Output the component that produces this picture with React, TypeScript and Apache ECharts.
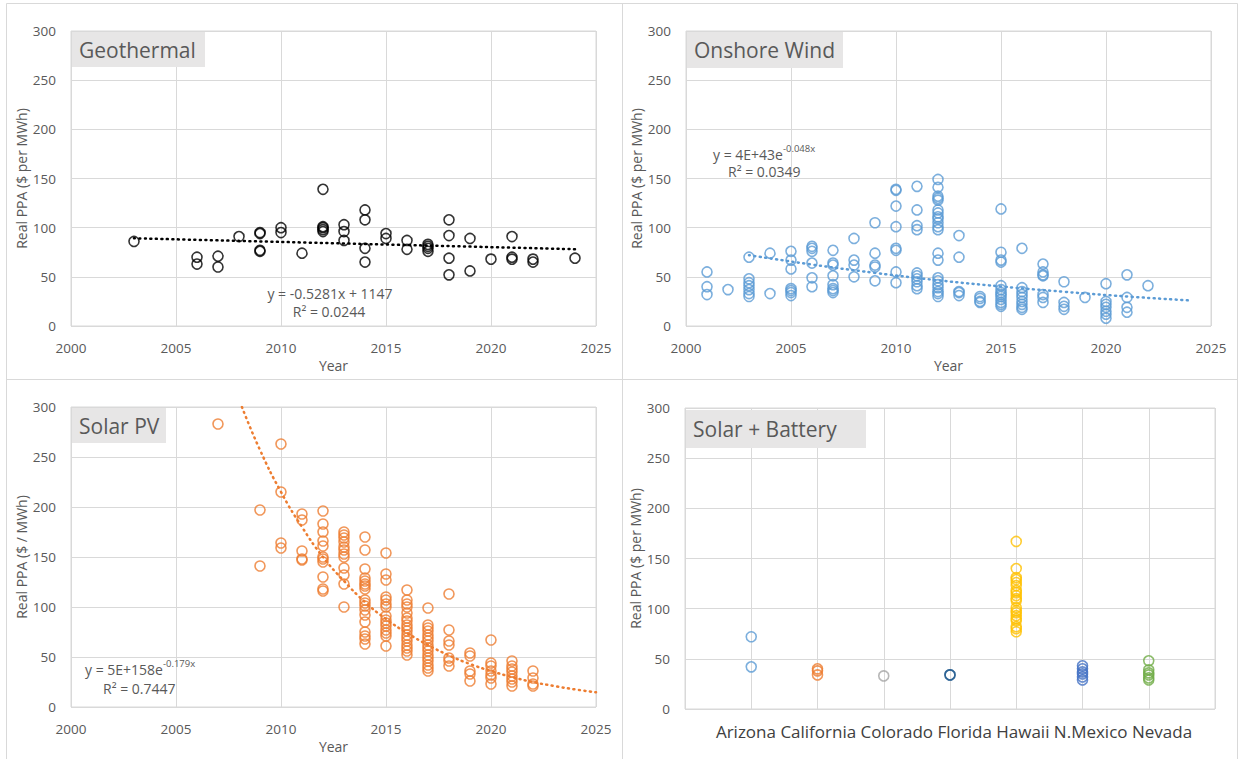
import React, { useEffect, useRef } from 'react';
import * as echarts from 'echarts';

// ---------- data ----------
const geoPoints: [number, number][] = [
  [2003, 86], [2006, 70], [2006, 63], [2007, 71], [2007, 60], [2008, 91],
  [2009, 95], [2009, 94], [2009, 77], [2009, 76], [2010, 100], [2010, 95], [2011, 74],
  [2012, 139], [2012, 101], [2012, 100], [2012, 98], [2012, 96],
  [2013, 103], [2013, 96], [2013, 87], [2014, 118], [2014, 108], [2014, 79], [2014, 65],
  [2015, 94], [2015, 89], [2016, 87], [2016, 78], [2017, 83], [2017, 81], [2017, 79], [2017, 76],
  [2018, 108], [2018, 92], [2018, 69], [2018, 52], [2019, 89], [2019, 56], [2020, 68],
  [2021, 91], [2021, 70], [2021, 68], [2022, 68], [2022, 65], [2024, 69],
];
const geoTrend: [number, number][] = [[2003, 89.2], [2024, 78.1]];

const windPoints: [number, number][] = [
  [2001, 55], [2001, 40], [2001, 32], [2002, 37],
  [2003, 70], [2003, 48], [2003, 44], [2003, 41], [2003, 37], [2003, 33], [2003, 30],
  [2004, 74], [2004, 33],
  [2005, 76], [2005, 67], [2005, 58], [2005, 38], [2005, 36], [2005, 34], [2005, 31],
  [2006, 81], [2006, 79], [2006, 76], [2006, 64], [2006, 49], [2006, 40],
  [2007, 77], [2007, 64], [2007, 62], [2007, 51], [2007, 42], [2007, 38], [2007, 36], [2007, 34],
  [2008, 89], [2008, 67], [2008, 62], [2008, 50],
  [2009, 105], [2009, 74], [2009, 62], [2009, 60], [2009, 46],
  [2010, 139], [2010, 138], [2010, 122], [2010, 101], [2010, 79], [2010, 77], [2010, 55], [2010, 44],
  [2011, 142], [2011, 118], [2011, 102], [2011, 98], [2011, 54], [2011, 51], [2011, 48], [2011, 45], [2011, 41], [2011, 38],
  [2012, 149], [2012, 141], [2012, 132], [2012, 130], [2012, 128], [2012, 118], [2012, 115], [2012, 111],
  [2012, 109], [2012, 105], [2012, 101], [2012, 98], [2012, 74], [2012, 67], [2012, 49], [2012, 46],
  [2012, 42], [2012, 39], [2012, 35], [2012, 33], [2012, 30],
  [2013, 92], [2013, 70], [2013, 35], [2013, 34], [2013, 31],
  [2014, 30], [2014, 28], [2014, 25], [2014, 24],
  [2015, 119], [2015, 75], [2015, 67], [2015, 65], [2015, 41], [2015, 37], [2015, 34], [2015, 32],
  [2015, 30], [2015, 27], [2015, 24], [2015, 22], [2015, 20],
  [2016, 79], [2016, 39], [2016, 35], [2016, 32], [2016, 29], [2016, 25], [2016, 22], [2016, 19], [2016, 17],
  [2017, 63], [2017, 55], [2017, 52], [2017, 51], [2017, 32], [2017, 29], [2017, 24],
  [2018, 45], [2018, 24], [2018, 20], [2018, 17], [2019, 29],
  [2020, 43], [2020, 25], [2020, 22], [2020, 19], [2020, 15], [2020, 12], [2020, 8],
  [2021, 52], [2021, 29], [2021, 19], [2021, 14], [2022, 41],
];
const windTrend: [number, number][] = [
  [2003, 72], [2006, 62.5], [2009, 54], [2012, 46.5], [2015, 40.2], [2018, 34.8], [2021, 30], [2024, 26],
];

const solarPoints: [number, number][] = [
  [2007, 283], [2009, 197], [2009, 141],
  [2010, 263], [2010, 215], [2010, 164], [2010, 159],
  [2011, 193], [2011, 187], [2011, 156], [2011, 148], [2011, 147],
  [2012, 196], [2012, 183], [2012, 175], [2012, 166], [2012, 161], [2012, 150], [2012, 148], [2012, 145],
  [2012, 130], [2012, 118], [2012, 116],
  [2013, 175], [2013, 172], [2013, 169], [2013, 165], [2013, 160], [2013, 157], [2013, 153], [2013, 150],
  [2013, 139], [2013, 132], [2013, 123], [2013, 100],
  [2014, 170], [2014, 157], [2014, 138], [2014, 129], [2014, 126], [2014, 123], [2014, 121], [2014, 118],
  [2014, 107], [2014, 104], [2014, 101], [2014, 97], [2014, 92], [2014, 85], [2014, 75], [2014, 71], [2014, 68], [2014, 63],
  [2015, 154], [2015, 133], [2015, 127], [2015, 110], [2015, 107], [2015, 103], [2015, 100], [2015, 91],
  [2015, 87], [2015, 84], [2015, 81], [2015, 77], [2015, 74], [2015, 71], [2015, 61],
  [2016, 117], [2016, 107], [2016, 103], [2016, 100], [2016, 94], [2016, 89], [2016, 86], [2016, 82],
  [2016, 79], [2016, 76], [2016, 72], [2016, 69], [2016, 66], [2016, 62], [2016, 59], [2016, 56], [2016, 52],
  [2017, 99], [2017, 82], [2017, 79], [2017, 76], [2017, 72], [2017, 69], [2017, 66], [2017, 62], [2017, 59],
  [2017, 56], [2017, 52], [2017, 49], [2017, 46], [2017, 42], [2017, 39], [2017, 36],
  [2018, 113], [2018, 77], [2018, 66], [2018, 62], [2018, 49], [2018, 46], [2018, 41],
  [2019, 54], [2019, 51], [2019, 36], [2019, 33], [2019, 26],
  [2020, 67], [2020, 44], [2020, 41], [2020, 36], [2020, 32], [2020, 29], [2020, 23],
  [2021, 46], [2021, 41], [2021, 38], [2021, 35], [2021, 31], [2021, 28], [2021, 25], [2021, 21],
  [2022, 36], [2022, 29], [2022, 23], [2022, 21],
];
const solarTrend: [number, number][] = [
  [2008.14, 300], [2009, 257], [2010, 215], [2011, 180], [2012, 150], [2013, 126], [2014, 105],
  [2015, 88], [2016, 74], [2017, 62], [2018, 51.6], [2019, 43], [2020, 36], [2021, 30],
  [2022, 25], [2023, 21], [2024, 17.6], [2025, 14.7],
];

const batteryStates = ['Arizona', 'California', 'Colorado', 'Florida', 'Hawaii', 'N.Mexico', 'Nevada'];
const batteryColors = ['#5B9BD5', '#ED7D31', '#A5A5A5', '#255E91', '#FFC000', '#4472C4', '#70AD47'];
const arizonaValues = [72, 42];
const californiaValues = [40, 38, 34];
const coloradoValues = [33];
const floridaValues = [34, 34];
const hawaiiValues = [167, 140, 131, 129, 126, 123, 118, 116, 113, 110, 108, 101, 98, 96, 93, 90, 88, 82, 80, 77];
const nMexicoValues = [43, 40, 37, 35, 32, 29];
const nevadaValues = [48, 39, 36, 34, 31, 29];
const batteryValues = [arizonaValues, californiaValues, coloradoValues, floridaValues, hawaiiValues, nMexicoValues, nevadaValues];

// ---------- styling ----------
const FONT = 'Open Sans';
const TXT = '#595959';
const GRIDC = '#d9d9d9';

const grids = [
  { left: 71, top: 31, width: 525, height: 295 },
  { left: 686, top: 31, width: 525, height: 295 },
  { left: 71, top: 407, width: 525, height: 300 },
  { left: 685, top: 408, width: 530, height: 301 },
];

const yNames = ['Real PPA ($ per MWh)', 'Real PPA ($ per MWh)', 'Real PPA ($ / MWh)', 'Real PPA ($ per MWh)'];

function scatter(idx: number, data: any[], color: string) {
  return {
    type: 'scatter',
    xAxisIndex: idx,
    yAxisIndex: idx,
    data,
    symbol: 'circle',
    symbolSize: 10,
    itemStyle: { color: 'rgba(0,0,0,0)', borderColor: color, borderWidth: 1.6 },
    z: 3,
  };
}
function trend(idx: number, data: any[], color: string) {
  return {
    type: 'line',
    xAxisIndex: idx,
    yAxisIndex: idx,
    data,
    smooth: true,
    showSymbol: false,
    clip: true,
    lineStyle: { color, width: 2.5, type: [1, 4.5], cap: 'round' },
    z: 4,
  };
}

function titleBox(x: number, y: number, w: number, h: number, text: string) {
  return {
    type: 'group',
    children: [
      { type: 'rect', shape: { x, y, width: w, height: h }, style: { fill: '#E7E6E6' }, z: 10 },
      {
        type: 'text', x: x + 7, y: y + h / 2, z: 11,
        style: { text, fill: TXT, font: `21px "${FONT}"`, verticalAlign: 'middle', align: 'left' },
      },
    ],
  };
}

function eqText(x: number, y: number, main: string, sup: string, align: string) {
  return {
    type: 'text', x, y, z: 11,
    style: {
      text: sup ? `{a|${main}}{s|${sup}}` : `{a|${main}}`,
      align, verticalAlign: 'middle',
      rich: {
        a: { fontFamily: FONT, fontSize: 14, fill: TXT, color: TXT, lineHeight: 18, verticalAlign: 'bottom' },
        s: { fontFamily: FONT, fontSize: 9.5, fill: TXT, color: TXT, lineHeight: 18, verticalAlign: 'top' },
      },
    },
  };
}

const option: any = {
  animation: false,
  backgroundColor: '#fff',
  grid: grids.map((g) => ({ ...g, show: true, borderColor: GRIDC, borderWidth: 1, containLabel: false })),
  xAxis: grids.map((_, i) =>
    i < 3
      ? {
          type: 'value', gridIndex: i, min: 2000, max: 2025, interval: 5,
          axisLine: { show: false }, axisTick: { show: false },
          splitLine: { show: true, lineStyle: { color: GRIDC, width: 1 } },
          axisLabel: { color: TXT, fontFamily: FONT, fontSize: 13.5, margin: 15, formatter: (v: number) => String(v) },
          name: 'Year', nameLocation: 'middle', nameGap: 32,
          nameTextStyle: { color: TXT, fontFamily: FONT, fontSize: 14 },
        }
      : {
          type: 'value', gridIndex: i, min: 0, max: 8, interval: 1,
          axisLine: { show: false }, axisTick: { show: false },
          splitLine: { show: true, lineStyle: { color: GRIDC, width: 1 } },
          axisLabel: { show: false },
        }
  ),
  yAxis: grids.map((_, i) => ({
    type: 'value', gridIndex: i, min: 0, max: 300, interval: 50,
    axisLine: { show: false }, axisTick: { show: false },
    splitLine: { show: true, lineStyle: { color: GRIDC, width: 1 } },
    axisLabel: { color: TXT, fontFamily: FONT, fontSize: 13.5, margin: 15 },
    name: yNames[i], nameLocation: 'middle', nameGap: i === 3 ? 41 : 42,
    nameTextStyle: { color: TXT, fontFamily: FONT, fontSize: 14 },
  })),
  series: [
    scatter(0, geoPoints, '#000000'),
    trend(0, geoTrend, '#000000'),
    scatter(1, windPoints, '#5B9BD5'),
    trend(1, windTrend, '#5B9BD5'),
    scatter(2, solarPoints, '#ED7D31'),
    trend(2, solarTrend, '#ED7D31'),
    ...batteryStates.map((s, k) => ({
      ...scatter(3, batteryValues[k].map((v) => [k + 1, v]), batteryColors[k]),
      name: s,
    })),
  ],
  graphic: [
    // panel borders
    { type: 'line', shape: { x1: 6.5, y1: 3.5, x2: 1237.5, y2: 3.5 }, style: { stroke: GRIDC, lineWidth: 1 } },
    { type: 'line', shape: { x1: 6.5, y1: 3.5, x2: 6.5, y2: 759 }, style: { stroke: GRIDC, lineWidth: 1 } },
    { type: 'line', shape: { x1: 622.5, y1: 3.5, x2: 622.5, y2: 759 }, style: { stroke: GRIDC, lineWidth: 1 } },
    { type: 'line', shape: { x1: 6.5, y1: 379.5, x2: 1237.5, y2: 379.5 }, style: { stroke: GRIDC, lineWidth: 1 } },
    { type: 'line', shape: { x1: 1237.5, y1: 3.5, x2: 1237.5, y2: 759 }, style: { stroke: GRIDC, lineWidth: 1 } },
    titleBox(72, 32, 133, 35, 'Geothermal'),
    titleBox(687, 32, 156, 36, 'Onshore Wind'),
    titleBox(72, 408, 94, 35, 'Solar PV'),
    titleBox(686, 410, 180, 38, 'Solar + Battery'),
    eqText(330, 291, 'y = -0.5281x + 1147', '', 'center'),
    eqText(329, 309, 'R² = 0.0244', '', 'center'),
    eqText(713, 152, 'y = 4E+43e', '-0.048x', 'left'),
    eqText(728, 169, 'R² = 0.0349', '', 'left'),
    eqText(85, 667, 'y = 5E+158e', '-0.179x', 'left'),
    eqText(103, 686, 'R² = 0.7447', '', 'left'),
    {
      type: 'text', x: 954, y: 731, z: 11,
      style: {
        text: batteryStates.join(' '), fill: '#404040',
        font: `17px "${FONT}"`, align: 'center', verticalAlign: 'middle',
      },
    },
  ],
};

export default function App() {
  const ref = useRef<HTMLDivElement>(null);
  useEffect(() => {
    document.body.style.margin = '0';
    const chart = echarts.init(ref.current!, undefined, { renderer: 'svg' });
    chart.setOption(option);
    return () => chart.dispose();
  }, []);
  return <div ref={ref} style={{ width: 1238, height: 759, background: '#fff' }} />;
}
